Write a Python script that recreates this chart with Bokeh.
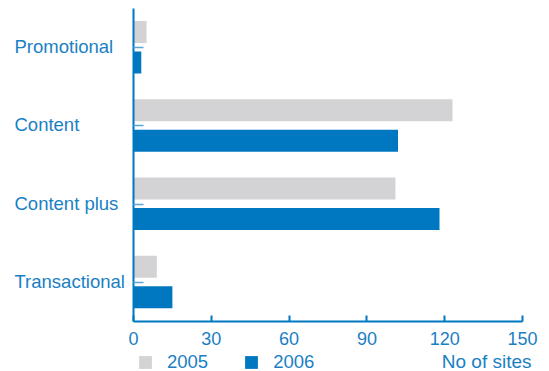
from bokeh.plotting import figure
from bokeh.layouts import column, row
from bokeh.models import (FactorRange, Range1d, Legend, LegendItem, Label,
                          ColumnDataSource, FixedTicker)
from bokeh.core.properties import value
from bokeh.transform import dodge
from bokeh.embed import file_html
from bokeh.resources import INLINE

categories = ["Promotional", "Content", "Content plus", "Transactional"]
sites_2005 = [5, 123, 101, 9]
sites_2006 = [3, 102, 118, 15]
x_ticks = [0, 30, 60, 90, 120, 150]
series_labels = ["2005", "2006"]
x_title = "No of sites"

BLUE = "#0078c1"
GREY = "#d3d3d5"
TEXT = "#1a80c4"
FONT = "Liberation Sans"
FS = "18px"
FS_LAB = "18.5px"

src = ColumnDataSource(dict(cat=categories, v2005=sites_2005, v2006=sites_2006))

# ---- main chart ----
p = figure(
    y_range=FactorRange(factors=list(reversed(categories)), range_padding=0),
    x_range=Range1d(0, 150),
    width=421, height=352,
    min_border_left=6, min_border_right=26, min_border_top=8, min_border_bottom=31,
    output_backend="svg", toolbar_location=None,
)
p.outline_line_color = None
p.xgrid.visible = False
p.ygrid.visible = False

r1 = p.hbar(y=dodge("cat", 0.2, range=p.y_range), left=0, right="v2005", height=0.28,
            fill_color=GREY, line_color=None, source=src)
r2 = p.hbar(y=dodge("cat", -0.19, range=p.y_range), left=0, right="v2006", height=0.28,
            fill_color=BLUE, line_color=None, source=src)

xa = p.xaxis[0]
xa.ticker = FixedTicker(ticks=x_ticks)
xa.minor_tick_line_color = None
xa.axis_line_color = BLUE
xa.axis_line_width = 2
xa.major_tick_line_color = BLUE
xa.major_tick_line_width = 2
xa.major_tick_in = 6
xa.major_tick_out = 0
xa.major_label_standoff = 10
xa.major_label_text_color = TEXT
xa.major_label_text_font = FONT
xa.major_label_text_font_size = FS

ya = p.yaxis[0]
ya.axis_line_color = BLUE
ya.axis_line_width = 2
ya.major_tick_line_color = "#5aa5d8"
ya.major_tick_line_width = 1.5
ya.major_tick_in = 10
ya.major_tick_out = 0
ya.major_label_text_font_size = "0px"
ya.major_label_text_color = None
ya.major_label_standoff = 0

# ---- category labels (left-aligned column) ----
lab = figure(
    y_range=p.y_range, x_range=Range1d(0, 127),
    width=127, height=352,
    min_border_left=0, min_border_right=0, min_border_top=8, min_border_bottom=31,
    x_axis_location=None, y_axis_location=None,
    output_backend="svg", toolbar_location=None,
)
lab.outline_line_color = None
lab.xgrid.visible = False
lab.ygrid.visible = False
lab.text(x=14, y="cat", text="cat", source=src, text_align="left",
         text_baseline="middle", text_color=TEXT, text_font=value(FONT),
         text_font_size=value(FS_LAB), y_offset=-1)

# ---- legend row ----
leg = figure(
    x_range=Range1d(0, 1), y_range=Range1d(0, 1),
    width=549, height=19,
    min_border_left=0, min_border_right=0, min_border_top=0, min_border_bottom=0,
    x_axis_location=None, y_axis_location=None,
    output_backend="svg", toolbar_location=None,
)
leg.outline_line_color = None
leg.xgrid.visible = False
leg.ygrid.visible = False
# key renderers: zero-size marks outside this strip's ranges (only their legend swatches show)
d1 = leg.hbar(y="v2005", left="v2005", right="v2005", height=0,
              fill_color=GREY, line_color=None, source=src)
d2 = leg.hbar(y="v2006", left="v2006", right="v2006", height=0,
              fill_color=BLUE, line_color=None, source=src)

legend = Legend(
    items=[LegendItem(label=series_labels[0], renderers=[d1]),
           LegendItem(label=series_labels[1], renderers=[d2])],
    orientation="horizontal", location=(137, -2),
    glyph_width=16, glyph_height=16, label_height=16, label_standoff=14, spacing=35,
    padding=0, margin=0, border_line_color=None, background_fill_alpha=0,
    label_text_color=TEXT, label_text_font=FONT, label_text_font_size=FS_LAB,
)
leg.add_layout(legend, "center")
leg.add_layout(Label(x=531, y=10, x_units="screen", y_units="screen", text=x_title,
                     text_align="right", text_baseline="middle", text_color=TEXT,
                     text_font=FONT, text_font_size="19px"))

layout = column(row(lab, p), leg)
open("out.html", "w").write(file_html(layout, INLINE))
